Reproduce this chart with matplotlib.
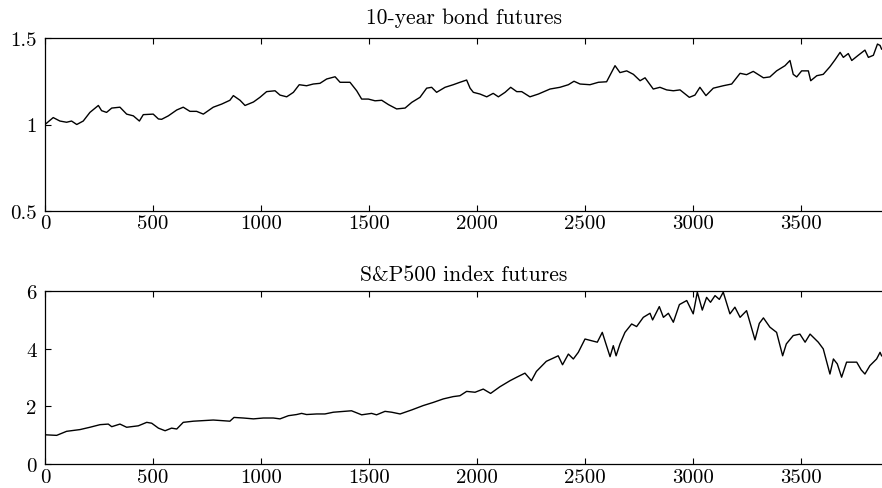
import numpy as np
import matplotlib
matplotlib.use('Agg')
import matplotlib.pyplot as plt

plt.rcParams['font.family'] = 'serif'
plt.rcParams['font.serif'] = ['cmr10']
plt.rcParams['axes.formatter.use_mathtext'] = True
plt.rcParams['mathtext.fontset'] = 'cm'

# 10-year bond futures
bond_t = [0, 38, 69, 100, 123, 147, 177, 208, 247, 262, 285, 309, 347, 378, 409, 437, 455,
          501, 525, 540, 571, 610, 640, 671, 702, 733, 779, 818, 856, 872, 903, 926, 965,
          995, 1026, 1065, 1088, 1119, 1150, 1177, 1211, 1242, 1273, 1304, 1343, 1366,
          1412, 1443, 1466, 1497, 1528, 1559, 1590, 1628, 1667, 1698, 1736, 1767, 1790,
          1813, 1852, 1890, 1921, 1952, 1968, 1983, 2014, 2045, 2075, 2099, 2130, 2156,
          2184, 2207, 2245, 2284, 2338, 2384, 2423, 2449, 2477, 2523, 2562, 2600, 2639,
          2662, 2693, 2724, 2755, 2778, 2816, 2847, 2878, 2909, 2940, 2983, 3009, 3032,
          3060, 3094, 3140, 3179, 3218, 3248, 3279, 3326, 3356, 3387, 3426, 3449, 3464,
          3480, 3503, 3534, 3545, 3573, 3603, 3634, 3657, 3681, 3696, 3719, 3735, 3765,
          3796, 3812, 3835, 3854, 3866, 3873]
bond_v = [1.00, 1.04, 1.02, 1.013, 1.02, 1.00, 1.02, 1.07, 1.11, 1.08, 1.07, 1.095, 1.10,
          1.06, 1.05, 1.02, 1.057, 1.06, 1.032, 1.03, 1.05, 1.084, 1.10, 1.076, 1.076,
          1.06, 1.10, 1.118, 1.14, 1.167, 1.14, 1.11, 1.13, 1.157, 1.19, 1.195, 1.17,
          1.16, 1.186, 1.23, 1.224, 1.234, 1.238, 1.263, 1.276, 1.244, 1.244, 1.195,
          1.147, 1.147, 1.137, 1.14, 1.115, 1.09, 1.095, 1.128, 1.157, 1.21, 1.215,
          1.186, 1.215, 1.23, 1.244, 1.257, 1.21, 1.186, 1.176, 1.16, 1.18, 1.16, 1.186,
          1.215, 1.19, 1.19, 1.16, 1.176, 1.205, 1.215, 1.23, 1.25, 1.234, 1.23, 1.244,
          1.247, 1.34, 1.30, 1.31, 1.29, 1.253, 1.27, 1.205, 1.215, 1.20, 1.195, 1.20,
          1.157, 1.17, 1.215, 1.167, 1.21, 1.224, 1.234, 1.296, 1.288, 1.307, 1.27,
          1.275, 1.31, 1.34, 1.37, 1.29, 1.275, 1.31, 1.31, 1.253, 1.282, 1.29, 1.334,
          1.373, 1.417, 1.388, 1.41, 1.37, 1.40, 1.43, 1.388, 1.40, 1.465, 1.457, 1.436]

# S&P500 index futures
spx_t = [0, 54, 100, 162, 208, 255, 293, 309, 347, 378, 432, 471, 494, 525, 556, 586, 610,
         640, 687, 733, 779, 818, 856, 875, 918, 965, 1011, 1057, 1088, 1127, 1165, 1188,
         1211, 1258, 1296, 1335, 1419, 1466, 1512, 1535, 1574, 1605, 1644, 1698, 1751,
         1798, 1844, 1890, 1921, 1952, 1991, 2029, 2063, 2106, 2153, 2184, 2222, 2252,
         2275, 2321, 2353, 2376, 2396, 2423, 2446, 2469, 2500, 2531, 2557, 2580, 2597,
         2616, 2631, 2644, 2662, 2685, 2716, 2739, 2770, 2801, 2813, 2844, 2863, 2886,
         2909, 2937, 2971, 3001, 3020, 3043, 3063, 3081, 3102, 3122, 3140, 3171, 3194,
         3218, 3248, 3287, 3307, 3326, 3356, 3387, 3415, 3432, 3464, 3495, 3519, 3542,
         3580, 3603, 3634, 3650, 3668, 3688, 3711, 3758, 3779, 3796, 3819, 3850, 3866,
         3873]
spx_v = [1.02, 1.00, 1.14, 1.20, 1.28, 1.37, 1.39, 1.30, 1.39, 1.28, 1.33, 1.45, 1.42,
         1.25, 1.16, 1.25, 1.22, 1.45, 1.49, 1.51, 1.53, 1.51, 1.49, 1.62, 1.60, 1.57,
         1.60, 1.60, 1.57, 1.68, 1.72, 1.76, 1.72, 1.74, 1.74, 1.80, 1.85, 1.71, 1.76,
         1.71, 1.83, 1.80, 1.74, 1.88, 2.03, 2.14, 2.26, 2.34, 2.37, 2.52, 2.49, 2.60,
         2.45, 2.68, 2.89, 3.01, 3.15, 2.89, 3.21, 3.56, 3.67, 3.75, 3.44, 3.81, 3.64,
         3.87, 4.33, 4.27, 4.22, 4.56, 4.16, 3.72, 4.10, 3.75, 4.16, 4.56, 4.85, 4.76,
         5.08, 5.22, 4.99, 5.45, 5.08, 5.22, 4.91, 5.52, 5.66, 5.20, 5.95, 5.33, 5.77,
         5.60, 5.83, 5.70, 5.95, 5.20, 5.43, 5.08, 5.31, 4.30, 4.87, 5.06, 4.74, 4.56,
         3.75, 4.16, 4.45, 4.50, 4.22, 4.50, 4.22, 3.99, 3.12, 3.64, 3.47, 3.01, 3.53,
         3.53, 3.26, 3.12, 3.41, 3.64, 3.87, 3.75]

xticks = [0, 500, 1000, 1500, 2000, 2500, 3000, 3500]
bond_yticks = [0.5, 1, 1.5]
bond_ylabels = ['0.5', '1', '1.5']
spx_yticks = [0, 2, 4, 6]
spx_ylabels = ['0', '2', '4', '6']

fig = plt.figure(figsize=(8.82, 4.89), dpi=100)
W, H = 882, 489
ax1 = fig.add_axes([45 / W, (H - 212) / H, (883 - 45) / W, 173 / H])
ax2 = fig.add_axes([45 / W, (H - 465.3) / H, (883 - 45) / W, 173.6 / H])

xmax = (883 - 45) / 0.216

for ax, t, v, yt, yl, lim, title, pad in [
        (ax1, bond_t, bond_v, bond_yticks, bond_ylabels, (0.5, 1.5), '10-year bond futures', 11),
        (ax2, spx_t, spx_v, spx_yticks, spx_ylabels, (0, 6), 'S&P500 index futures', 8)]:
    ax.plot(t, v, color='black', linewidth=1.0)
    ax.set_xlim(0, xmax)
    ax.set_ylim(*lim)
    ax.set_xticks(xticks)
    ax.set_xticklabels([str(x) for x in xticks])
    ax.set_yticks(yt)
    ax.set_yticklabels(yl)
    ax.tick_params(direction='in', top=True, right=False, length=4, width=0.8,
                   labelsize=15)
    ax.tick_params(axis='x', pad=2.5)
    ax.tick_params(axis='y', pad=6)
    ax.set_title(title, fontsize=15.5, pad=pad)
    for s in ax.spines.values():
        s.set_linewidth(0.9)

fig.savefig('out.png', dpi=100)
